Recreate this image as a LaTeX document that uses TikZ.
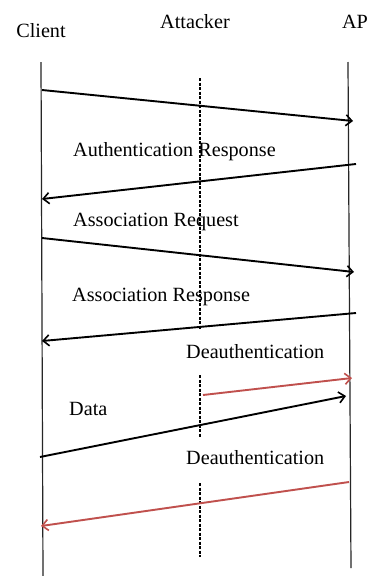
\documentclass[tikz,border=0pt]{standalone}
\usepackage{fontspec}
\setmainfont{Liberation Serif}
\usetikzlibrary{arrows.meta}
\definecolor{deauthred}{RGB}{192,80,77}
\begin{document}
\begin{tikzpicture}[x=1pt,y=-1pt,
  lbl/.style={anchor=base west,inner sep=0pt,font=\fontsize{20.2}{24}\selectfont},
  hdr/.style={anchor=base,inner sep=0pt,font=\fontsize{20.2}{24}\selectfont},
  life/.style={line width=1.2pt,black!85},
  attk/.style={line width=1.5pt,dash pattern=on 3pt off 1.5pt},
  msg/.style={line width=1.9pt,-{Straight Barb[length=6pt,width=11pt,line width=1.6pt]}},
  msgred/.style={msg,deauthred}]
\useasboundingbox (0,0) rectangle (373,576);
\fill[white] (0,0) rectangle (373,576);
% headers
\node[hdr] (client) at (41,37) {Client};
\node[hdr] (attacker) at (195,28) {Attacker};
\node[hdr] (ap) at (355,28) {AP};
% lifelines
\coordinate (c1) at (41,62); \coordinate (c2) at (43,576);
\coordinate (p1) at (348,62); \coordinate (p2) at (351,568);
\draw[life] (c1) -- (c2);
\draw[life] (p1) -- (p2);
\coordinate (a1) at (200,78); \coordinate (a2) at (200,330);
\coordinate (a3) at (200,375); \coordinate (a4) at (200,437);
\coordinate (a5) at (200,483); \coordinate (a6) at (200,557);
\draw[attk] (a1) -- (a2);
\draw[attk] (a3) -- (a4);
\draw[attk] (a5) -- (a6);
% messages
\coordinate (m1s) at (42,90);  \coordinate (m1e) at (353,121);
\coordinate (m2s) at (356,164); \coordinate (m2e) at (42,199);
\coordinate (m3s) at (42,238); \coordinate (m3e) at (354,272);
\coordinate (m4s) at (356,313); \coordinate (m4e) at (42,341);
\coordinate (m5s) at (203,395); \coordinate (m5e) at (352,378);
\coordinate (m6s) at (40,457); \coordinate (m6e) at (346,396);
\coordinate (m7s) at (349,482); \coordinate (m7e) at (41,526);
\draw[msg] (m1s) -- (m1e);
\draw[msg] (m2s) -- (m2e);
\draw[msg] (m3s) -- (m3e);
\draw[msg] (m4s) -- (m4e);
\draw[msgred] (m5s) -- (m5e);
\draw[msg] (m6s) -- (m6e);
\draw[msgred] (m7s) -- (m7e);
% labels
\node[lbl] (l2) at (73,156) {Authentication Response};
\node[lbl] (l3) at (73,226) {Association Request};
\node[lbl] (l4) at (72,301) {Association Response};
\node[lbl] (l5) at (186,358) {Deauthentication};
\node[lbl] (l6) at (69,415) {Data};
\node[lbl] (l7) at (186,464) {Deauthentication};
\end{tikzpicture}
\end{document}
